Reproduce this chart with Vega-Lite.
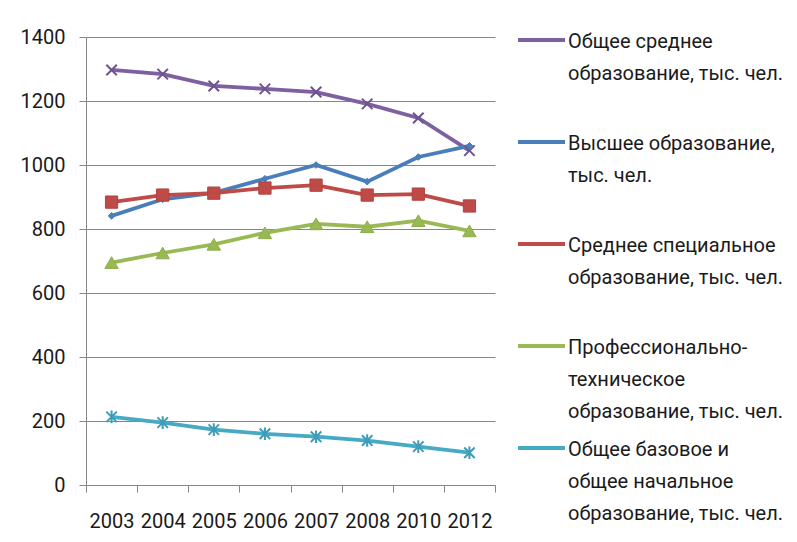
{
  "$schema": "https://vega.github.io/schema/vega-lite/v6.json",
  "width": 409,
  "height": 448,
  "autosize": {"type": "none"},
  "padding": {"left": 86, "top": 37, "right": 302, "bottom": 57},
  "background": "white",
  "config": {
    "view": {"stroke": null},
    "font": "Roboto",
    "style": {"guide-label": {"lineHeight": 32, "dy": -8}}
  },
  "data": {
    "values": [
      {"year": "2003", "series": "Общее среднее образование, тыс. чел.", "value": 1297},
      {"year": "2004", "series": "Общее среднее образование, тыс. чел.", "value": 1284},
      {"year": "2005", "series": "Общее среднее образование, тыс. чел.", "value": 1247},
      {"year": "2006", "series": "Общее среднее образование, тыс. чел.", "value": 1238},
      {"year": "2007", "series": "Общее среднее образование, тыс. чел.", "value": 1228},
      {"year": "2008", "series": "Общее среднее образование, тыс. чел.", "value": 1191},
      {"year": "2010", "series": "Общее среднее образование, тыс. чел.", "value": 1147},
      {"year": "2012", "series": "Общее среднее образование, тыс. чел.", "value": 1045},
      {"year": "2003", "series": "Высшее образование, тыс. чел.", "value": 841},
      {"year": "2004", "series": "Высшее образование, тыс. чел.", "value": 893},
      {"year": "2005", "series": "Высшее образование, тыс. чел.", "value": 913},
      {"year": "2006", "series": "Высшее образование, тыс. чел.", "value": 957},
      {"year": "2007", "series": "Высшее образование, тыс. чел.", "value": 1000},
      {"year": "2008", "series": "Высшее образование, тыс. чел.", "value": 948},
      {"year": "2010", "series": "Высшее образование, тыс. чел.", "value": 1025},
      {"year": "2012", "series": "Высшее образование, тыс. чел.", "value": 1060},
      {"year": "2003", "series": "Среднее специальное образование, тыс. чел.", "value": 884},
      {"year": "2004", "series": "Среднее специальное образование, тыс. чел.", "value": 906},
      {"year": "2005", "series": "Среднее специальное образование, тыс. чел.", "value": 912},
      {"year": "2006", "series": "Среднее специальное образование, тыс. чел.", "value": 928},
      {"year": "2007", "series": "Среднее специальное образование, тыс. чел.", "value": 937},
      {"year": "2008", "series": "Среднее специальное образование, тыс. чел.", "value": 906},
      {"year": "2010", "series": "Среднее специальное образование, тыс. чел.", "value": 909},
      {"year": "2012", "series": "Среднее специальное образование, тыс. чел.", "value": 872},
      {"year": "2003", "series": "Профессионально-техническое образование, тыс. чел.", "value": 695},
      {"year": "2004", "series": "Профессионально-техническое образование, тыс. чел.", "value": 725},
      {"year": "2005", "series": "Профессионально-техническое образование, тыс. чел.", "value": 752},
      {"year": "2006", "series": "Профессионально-техническое образование, тыс. чел.", "value": 788},
      {"year": "2007", "series": "Профессионально-техническое образование, тыс. чел.", "value": 816},
      {"year": "2008", "series": "Профессионально-техническое образование, тыс. чел.", "value": 807},
      {"year": "2010", "series": "Профессионально-техническое образование, тыс. чел.", "value": 826},
      {"year": "2012", "series": "Профессионально-техническое образование, тыс. чел.", "value": 794},
      {"year": "2003", "series": "Общее базовое и общее начальное образование, тыс. чел.", "value": 213},
      {"year": "2004", "series": "Общее базовое и общее начальное образование, тыс. чел.", "value": 195},
      {"year": "2005", "series": "Общее базовое и общее начальное образование, тыс. чел.", "value": 173},
      {"year": "2006", "series": "Общее базовое и общее начальное образование, тыс. чел.", "value": 160},
      {"year": "2007", "series": "Общее базовое и общее начальное образование, тыс. чел.", "value": 151},
      {"year": "2008", "series": "Общее базовое и общее начальное образование, тыс. чел.", "value": 139},
      {"year": "2010", "series": "Общее базовое и общее начальное образование, тыс. чел.", "value": 120},
      {"year": "2012", "series": "Общее базовое и общее начальное образование, тыс. чел.", "value": 101}
    ]
  },
  "encoding": {
    "x": {
      "field": "year",
      "type": "ordinal",
      "scale": {"type": "band", "paddingInner": 0, "paddingOuter": 0},
      "axis": {
        "title": null,
        "labelAngle": 0,
        "labelFontSize": 20,
        "labelColor": "#1a1a1a",
        "labelPadding": 27,
        "domainColor": "#868686",
        "tickColor": "#868686",
        "tickSize": 7,
        "tickBand": "extent",
        "grid": false
      }
    },
    "y": {
      "field": "value",
      "type": "quantitative",
      "scale": {"domain": [0, 1400], "nice": false},
      "axis": {
        "title": null,
        "format": "d",
        "values": [0, 200, 400, 600, 800, 1000, 1200, 1400],
        "labelFontSize": 20,
        "labelColor": "#1a1a1a",
        "labelPadding": 14,
        "labelOffset": 8,
        "domainColor": "#868686",
        "tickColor": "#868686",
        "tickSize": 7,
        "grid": true,
        "gridColor": "#868686",
        "gridOpacity": 1
      }
    }
  },
  "layer": [
    {
      "mark": {"type": "line", "strokeWidth": 3.8},
      "encoding": {
        "color": {
          "field": "series",
          "type": "nominal",
          "scale": {
            "domain": [
              "Общее среднее образование, тыс. чел.",
              "Высшее образование, тыс. чел.",
              "Среднее специальное образование, тыс. чел.",
              "Профессионально-техническое образование, тыс. чел.",
              "Общее базовое и общее начальное образование, тыс. чел."
            ],
            "range": ["#7D60A0", "#4A7EBB", "#BE4B48", "#98B954", "#46AAC5"]
          },
          "legend": {
            "title": null,
            "orient": "none",
            "legendX": 430,
            "legendY": -22.5,
            "padding": 0,
            "symbolType": "stroke",
            "symbolSize": 2209,
            "symbolStrokeWidth": 4,
            "labelFontSize": 20,
            "labelColor": "#1a1a1a",
            "labelBaseline": "top",
            "labelOffset": 1,
            "labelLimit": 300,
            "rowPadding": -12,
            "labelExpr": "datum.value == 'Общее среднее образование, тыс. чел.' ? ['Общее среднее', 'образование, тыс. чел.', ' '] : datum.value == 'Высшее образование, тыс. чел.' ? ['Высшее образование,', 'тыс. чел.', ' '] : datum.value == 'Среднее специальное образование, тыс. чел.' ? ['Среднее специальное', 'образование, тыс. чел.', ' '] : datum.value == 'Профессионально-техническое образование, тыс. чел.' ? ['Профессионально-', 'техническое', 'образование, тыс. чел.'] : ['Общее базовое и', 'общее начальное', 'образование, тыс. чел.']"
          }
        }
      }
    },
    {
      "transform": [{"filter": "datum.series == 'Общее среднее образование, тыс. чел.'"}],
      "mark": {"type": "point", "shape": "M-1,-1L1,1M-1,1L1,-1", "size": 110, "filled": false, "stroke": "#6E5390", "strokeWidth": 2, "opacity": 1}
    },
    {
      "transform": [{"filter": "datum.series == 'Высшее образование, тыс. чел.'"}],
      "mark": {"type": "point", "shape": "diamond", "size": 45, "filled": true, "fill": "#4A7EBB", "stroke": "#4A7EBB", "strokeWidth": 1, "opacity": 1}
    },
    {
      "transform": [{"filter": "datum.series == 'Среднее специальное образование, тыс. чел.'"}],
      "mark": {"type": "point", "shape": "square", "size": 150, "filled": true, "fill": "#BE4B48", "stroke": "#B5403D", "strokeWidth": 1, "opacity": 1}
    },
    {
      "transform": [{"filter": "datum.series == 'Профессионально-техническое образование, тыс. чел.'"}],
      "mark": {"type": "point", "shape": "triangle-up", "size": 180, "filled": true, "fill": "#98B954", "stroke": "#8DAE4A", "strokeWidth": 1, "opacity": 1}
    },
    {
      "transform": [{"filter": "datum.series == 'Общее базовое и общее начальное образование, тыс. чел.'"}],
      "mark": {"type": "point", "shape": "M-1,-1L1,1M-1,1L1,-1M0,-1.2L0,1.2", "size": 110, "filled": false, "stroke": "#3E9CB6", "strokeWidth": 2, "opacity": 1}
    }
  ]
}
